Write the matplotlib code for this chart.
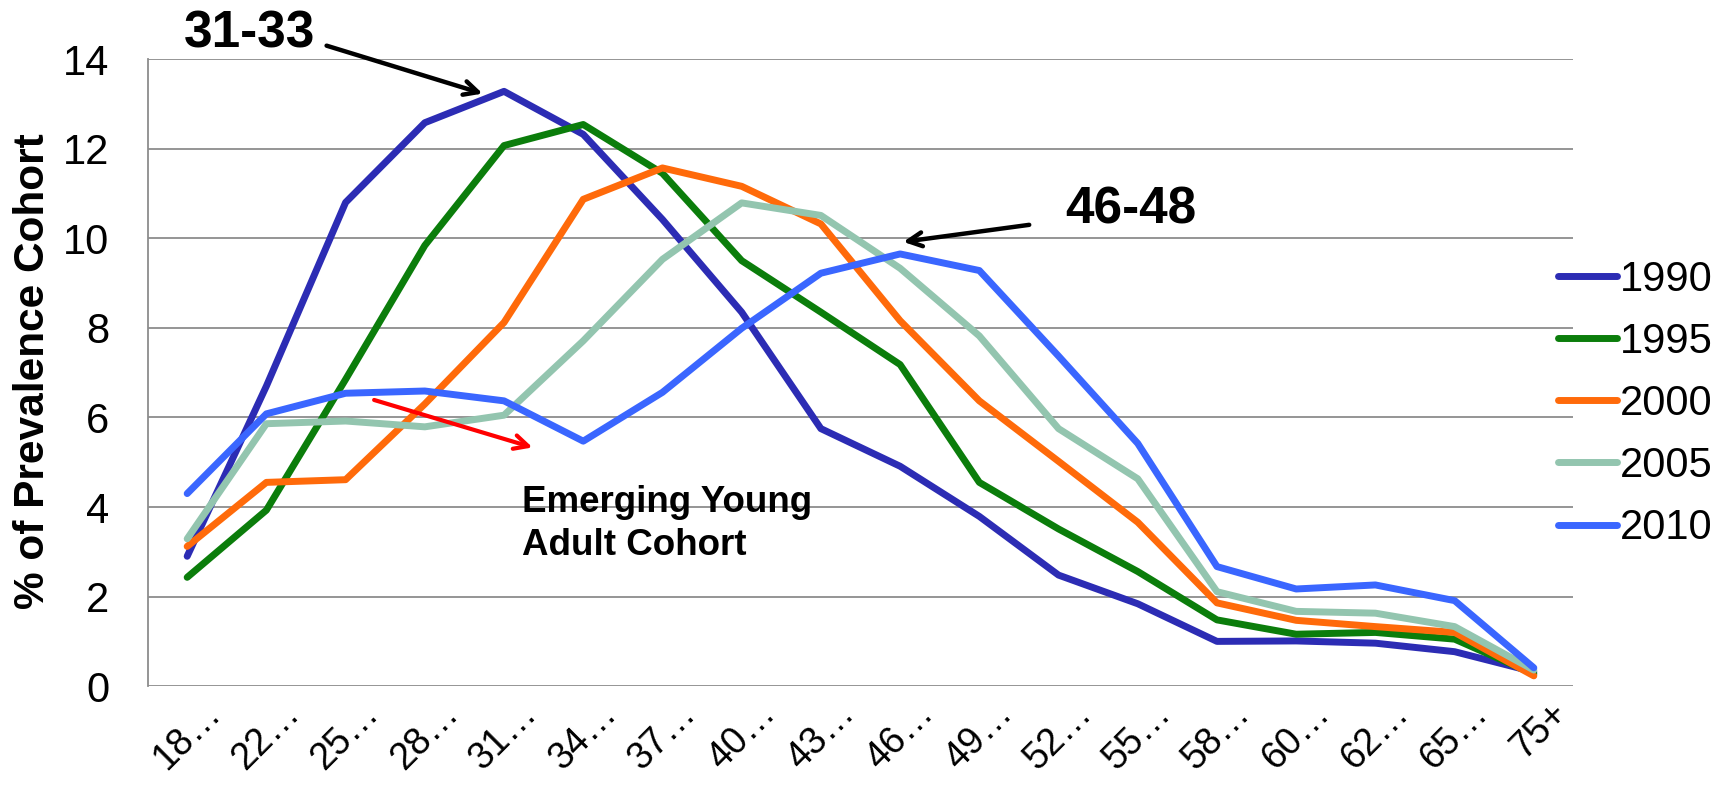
import matplotlib
matplotlib.use("Agg")
import matplotlib.pyplot as plt
from matplotlib.transforms import ScaledTranslation

plt.rcParams['font.family'] = ['Liberation Sans', 'DejaVu Sans']

categories = ["18…", "22…", "25…", "28…", "31…", "34…", "37…", "40…", "43…",
              "46…", "49…", "52…", "55…", "58…", "60…", "62…", "65…", "75+"]

s1990 = [2.9, 6.7, 10.8, 12.58, 13.28, 12.32, 10.42, 8.35, 5.75, 4.91, 3.79, 2.48, 1.84, 1.0, 1.01, 0.96, 0.77, 0.32]
s1995 = [2.43, 3.93, 6.85, 9.84, 12.07, 12.54, 11.45, 9.5, 8.35, 7.18, 4.55, 3.51, 2.56, 1.48, 1.16, 1.2, 1.05, 0.27]
s2000 = [3.12, 4.55, 4.61, 6.3, 8.12, 10.87, 11.57, 11.16, 10.32, 8.16, 6.37, 5.02, 3.66, 1.86, 1.47, 1.33, 1.2, 0.23]
s2005 = [3.29, 5.86, 5.92, 5.79, 6.05, 7.71, 9.53, 10.79, 10.51, 9.33, 7.82, 5.75, 4.63, 2.11, 1.67, 1.63, 1.33, 0.36]
s2010 = [4.3, 6.08, 6.54, 6.59, 6.37, 5.47, 6.56, 7.99, 9.22, 9.65, 9.28, 7.37, 5.42, 2.67, 2.17, 2.26, 1.91, 0.41]

series_names = ["1990", "1995", "2000", "2005", "2010"]
series_values = [s1990, s1995, s2000, s2005, s2010]
series_colors = ["#2C2CB4", "#0B7D0B", "#FF6A0A", "#93C5AF", "#3A66FF"]

yticks = [0, 2, 4, 6, 8, 10, 12, 14]

fig = plt.figure(figsize=(17.3, 7.86), dpi=100)
ax = fig.add_axes([0.0853, 0.1270, 0.8242, 0.7978])

x = list(range(len(categories)))
for name, vals, col in zip(series_names, series_values, series_colors):
    ax.plot(x, vals, color=col, lw=5.0, solid_capstyle='round', solid_joinstyle='round', label=name, clip_on=False)

ax.set_xlim(-0.5, len(categories) - 0.5)
ax.set_ylim(0, 14)
ax.set_yticks(yticks)
ax.set_yticklabels([str(v) for v in yticks])
ax.yaxis.grid(True, color="#8C8C8C", lw=1.3)
ax.set_axisbelow(True)
for sp in ['top', 'right', 'bottom']:
    ax.spines[sp].set_visible(False)
ax.spines['left'].set_color("#8C8C8C")
ax.spines['left'].set_linewidth(1.3)
ax.tick_params(axis='y', length=0, pad=27.5, labelsize=30)
ax.tick_params(axis='x', length=0, pad=0, labelsize=27)

ax.set_xticks(x)
ax.set_xticklabels(categories, rotation=45, ha='right', va='baseline', rotation_mode='anchor')
off = ScaledTranslation(35 / 100, -29 / 100, fig.dpi_scale_trans)
for t in ax.xaxis.get_major_ticks():
    t.label1.set_transform(t.label1.get_transform() + off)

ax.set_ylabel("% of Prevalence Cohort", fontsize=30.5, fontweight='bold', va='center')
ax.yaxis.set_label_coords(-0.0806, 0.5026)

leg = ax.legend(loc='center left', bbox_to_anchor=(0.9008, 0.4861), bbox_transform=fig.transFigure,
                frameon=False, fontsize=30, handlelength=1.4, handletextpad=0.08,
                labelspacing=0.53, borderpad=0, borderaxespad=0)

arrow_style = '->,head_length=1.0,head_width=0.5'

# annotations
ax.annotate("", xy=(3.73, 13.23), xytext=(1.76, 14.30), xycoords='data', textcoords='data',
            arrowprops=dict(arrowstyle=arrow_style, color='black', lw=3.2,
                            shrinkA=0, shrinkB=0), annotation_clip=False)
ax.text(-0.04, 14.25, "31-33", fontsize=37, fontweight='bold', ha='left', va='baseline', clip_on=False)

ax.annotate("", xy=(9.04, 9.92), xytext=(10.63, 10.30), xycoords='data', textcoords='data',
            arrowprops=dict(arrowstyle=arrow_style, color='black', lw=3.2,
                            shrinkA=0, shrinkB=0), annotation_clip=False)
ax.text(11.09, 10.34, "46-48", fontsize=37, fontweight='bold', ha='left', va='baseline')

ax.annotate("", xy=(4.36, 5.33), xytext=(2.36, 6.39), xycoords='data', textcoords='data',
            arrowprops=dict(arrowstyle=arrow_style, color='#FF0000', lw=3.0,
                            shrinkA=0, shrinkB=0))
ax.text(4.23, 3.88, "Emerging Young", fontsize=26.5, fontweight='bold', ha='left', va='baseline')
ax.text(4.23, 2.92, "Adult Cohort", fontsize=26.5, fontweight='bold', ha='left', va='baseline')

fig.savefig("out.png", dpi=100)
